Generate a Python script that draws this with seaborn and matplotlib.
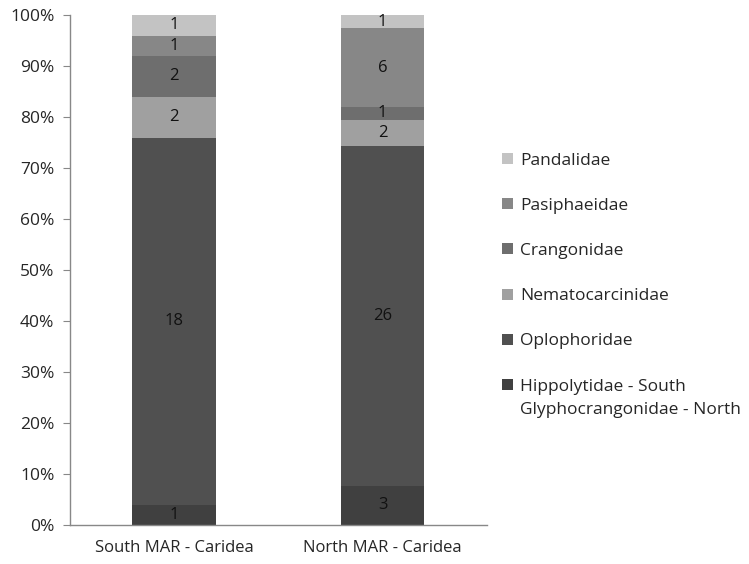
import matplotlib
matplotlib.use("Agg")
import matplotlib.pyplot as plt
from matplotlib.patches import Patch
import numpy as np
import seaborn as sns

# Counts per family, stacked bottom to top
sites = ["South MAR - Caridea", "North MAR - Caridea"]
families = ["Hippolytidae - South", "Oplophoridae",
            "Nematocarcinidae", "Crangonidae", "Pasiphaeidae", "Pandalidae"]
first_family_north = "Glyphocrangonidae - North"
south_counts = [1, 18, 2, 2, 1, 1]
north_counts = [3, 26, 2, 1, 6, 1]
colors = ["#404040", "#505050", "#a0a0a0", "#6e6e6e", "#878787", "#c3c3c3"]

sns.set_style("white")
plt.rcParams["font.family"] = ["Open Sans", "DejaVu Sans"]

counts = np.array([south_counts, north_counts], dtype=float)  # shape (site, family)
pct = counts / counts.sum(axis=1, keepdims=True) * 100

fig = plt.figure(figsize=(7.49, 5.64), dpi=100)
ax = fig.add_axes([0.093, 0.069, 0.557, 0.904])

bottom = np.zeros(len(sites))
for j, fam in enumerate(families):
    sns.barplot(x=sites, y=pct[:, j], bottom=bottom, color=colors[j],
                width=0.4, saturation=1, ax=ax, edgecolor="none", linewidth=0)
    for i in range(len(sites)):
        ax.text(i, bottom[i] + pct[i, j] / 2, f"{int(counts[i, j])}",
                ha="center", va="center", fontsize=12, color="#111111")
    bottom = bottom + pct[:, j]

ax.set_xlim(-0.5, 1.5)
ax.set_ylim(0, 100)
ax.set_yticks(np.arange(0, 101, 10))
ax.set_yticklabels([f"{v}%" for v in range(0, 101, 10)], fontsize=12.5)
ax.tick_params(axis="x", labelsize=12, length=0, pad=11)
ax.set_xticks([0, 1])
ax.set_xticklabels(sites)
# small tick marks at category boundaries
ax.set_xticks([-0.5, 0.5, 1.5], minor=True)
ax.tick_params(axis="x", which="minor", length=5, color="#888888", direction="out")
ax.tick_params(axis="y", length=5, color="#888888", direction="out", left=True, pad=6)
for side in ["top", "right"]:
    ax.spines[side].set_visible(False)
for side in ["left", "bottom"]:
    ax.spines[side].set_color("#888888")
    ax.spines[side].set_linewidth(1)
ax.set_xlabel("")
ax.set_ylabel("")

handles = [Patch(facecolor=colors[j], edgecolor="none") for j in reversed(range(len(families)))]
labels = list(reversed(families))
leg = fig.legend(handles, labels, loc="upper left", bbox_to_anchor=(0.650, 0.757),
                 frameon=False, fontsize=12.5, handlelength=0.6, handleheight=0.6,
                 handletextpad=0.4, labelspacing=1.68)

# second line of the bottom legend entry (the North site's first family)
fig.canvas.draw()
last = leg.get_texts()[-1]
bb = last.get_window_extent()
x0, y0 = fig.transFigure.inverted().transform((bb.x0, bb.y0 - 23))
fig.text(x0, y0, first_family_north, fontsize=12.5, ha="left", va="bottom",
         color=last.get_color())

fig.savefig("out.png", dpi=100)
